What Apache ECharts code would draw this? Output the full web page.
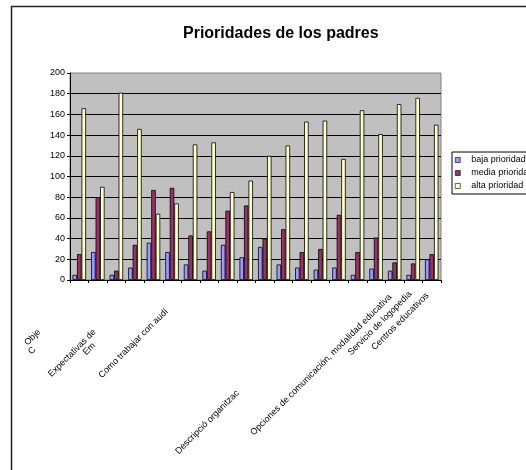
<!DOCTYPE html>
<html>
<head>
<meta charset="utf-8">
<script src="https://cdn.jsdelivr.net/npm/echarts@6/dist/echarts.min.js"></script>
<style>
  body { margin: 0; background: #ffffff; }
  #chartArea { width: 526px; height: 470px; }
</style>
</head>
<body>
<div id="chartArea"></div>
<script>
var categories = [
    'Obje\nC', 'Expectativas de\nEm', '', '', '', 'Como trabajar con audí', '', '', '',
    'Descripció organitzac', '', '', '', '', '', '', '',
    'Opciones de comunicación, modalidad educativa', 'Servicio de logopedia', 'Centros educativos'
];
var seriesNames = ['baja prioridad', 'media prioridad', 'alta prioridad'];
var baja  = [5, 27, 5, 12, 36, 27, 15, 9, 34, 22, 32, 15, 12, 10, 12, 5, 11, 9, 5, 20];
var media = [25, 80, 9, 34, 87, 89, 43, 47, 67, 72, 40, 49, 27, 30, 63, 27, 41, 17, 16, 25];
var alta  = [166, 90, 181, 146, 64, 74, 131, 133, 85, 96, 120, 130, 153, 154, 117, 164, 141, 170, 176, 150];
var yTicks = [0, 20, 40, 60, 80, 100, 120, 140, 160, 180, 200];

var colors = ['#9999ff', '#993366', '#ffffcc'];
var font = 'Liberation Sans, Arial, sans-serif';

// label nudges, like the clipped excel labels: [right pad, top pad, right pad 2nd line]
var labelShift = {
    0: [57, 10, 73],
    1: [31, 62, 41],
    5: [18, 21, 0],
    9: [78, 132, 0],
    17: [7, 2, 0],
    18: [4, 0, 0],
    19: [6, 0, 0]
};
var rich = {};
Object.keys(labelShift).forEach(function(k) {
    var s = labelShift[k];
    rich['a' + k] = { fontSize: 9, fontFamily: font, color: '#000', padding: [s[1], s[0], 0, 0] };
    rich['b' + k] = { fontSize: 9, fontFamily: font, color: '#000', padding: [0, s[2], 0, 0] };
});

var myChart = echarts.init(document.getElementById('chartArea'));

function barSeries(name, data, color) {
    return {
        name: name,
        type: 'bar',
        data: data,
        barWidth: 4.5,
        barGap: '0%',
        itemStyle: { color: color, borderColor: '#000', borderWidth: 0.8 }
    };
}

myChart.setOption({
    animation: false,
    backgroundColor: '#ffffff',
    title: {
        text: 'Prioridades de los padres',
        left: 178,
        top: 21,
        textStyle: { fontSize: 16, fontWeight: 'bold', fontFamily: font, color: '#000' }
    },
    graphic: [{
        type: 'rect',
        shape: { x: 11.5, y: 6.5, width: 700, height: 700 },
        style: { fill: 'none', stroke: '#222', lineWidth: 1.5 }
    }],
    legend: {
        orient: 'vertical',
        left: 452,
        top: 152,
        data: seriesNames,
        icon: 'rect',
        itemWidth: 5,
        itemHeight: 5,
        itemGap: 3,
        padding: [3, 6, 3, 3],
        borderColor: '#000',
        borderWidth: 1,
        backgroundColor: '#ffffff',
        itemStyle: { borderColor: '#000', borderWidth: 0.6 },
        textStyle: { fontSize: 9, fontFamily: font, color: '#000', lineHeight: 10, padding: [0, 0, 0, 6] }
    },
    grid: {
        left: 70,
        top: 73,
        width: 371,
        height: 207,
        show: true,
        backgroundColor: '#c0c0c0',
        borderColor: '#808080',
        borderWidth: 1
    },
    xAxis: {
        type: 'category',
        data: categories,
        boundaryGap: true,
        axisLine: { lineStyle: { color: '#000', width: 1 } },
        axisTick: { show: true, length: 3, interval: 0, lineStyle: { color: '#000' } },
        splitLine: { show: false },
        axisLabel: {
            interval: 0,
            rotate: 45,
            margin: 10,
            fontSize: 9,
            fontFamily: font,
            color: '#000',
            rich: rich,
            formatter: function(value, index) {
                if (!value) return '';
                var s = labelShift[index];
                if (!s) return value;
                var lines = value.split('\n');
                var out = '{a' + index + '|' + lines[0] + '}';
                if (lines[1]) out += '\n{b' + index + '|' + lines[1] + '}';
                return out;
            }
        }
    },
    yAxis: {
        type: 'value',
        min: yTicks[0],
        max: yTicks[yTicks.length - 1],
        interval: 20,
        axisLine: { show: true, lineStyle: { color: '#000', width: 1 } },
        axisTick: { show: true, length: 3, lineStyle: { color: '#000' } },
        splitLine: { show: true, showMinLine: false, showMaxLine: false, lineStyle: { color: '#000', width: 1 } },
        axisLabel: { fontSize: 9, fontFamily: font, color: '#000', margin: 5 }
    },
    series: [
        barSeries(seriesNames[0], baja, colors[0]),
        barSeries(seriesNames[1], media, colors[1]),
        barSeries(seriesNames[2], alta, colors[2])
    ]
});
</script>
</body>
</html>
